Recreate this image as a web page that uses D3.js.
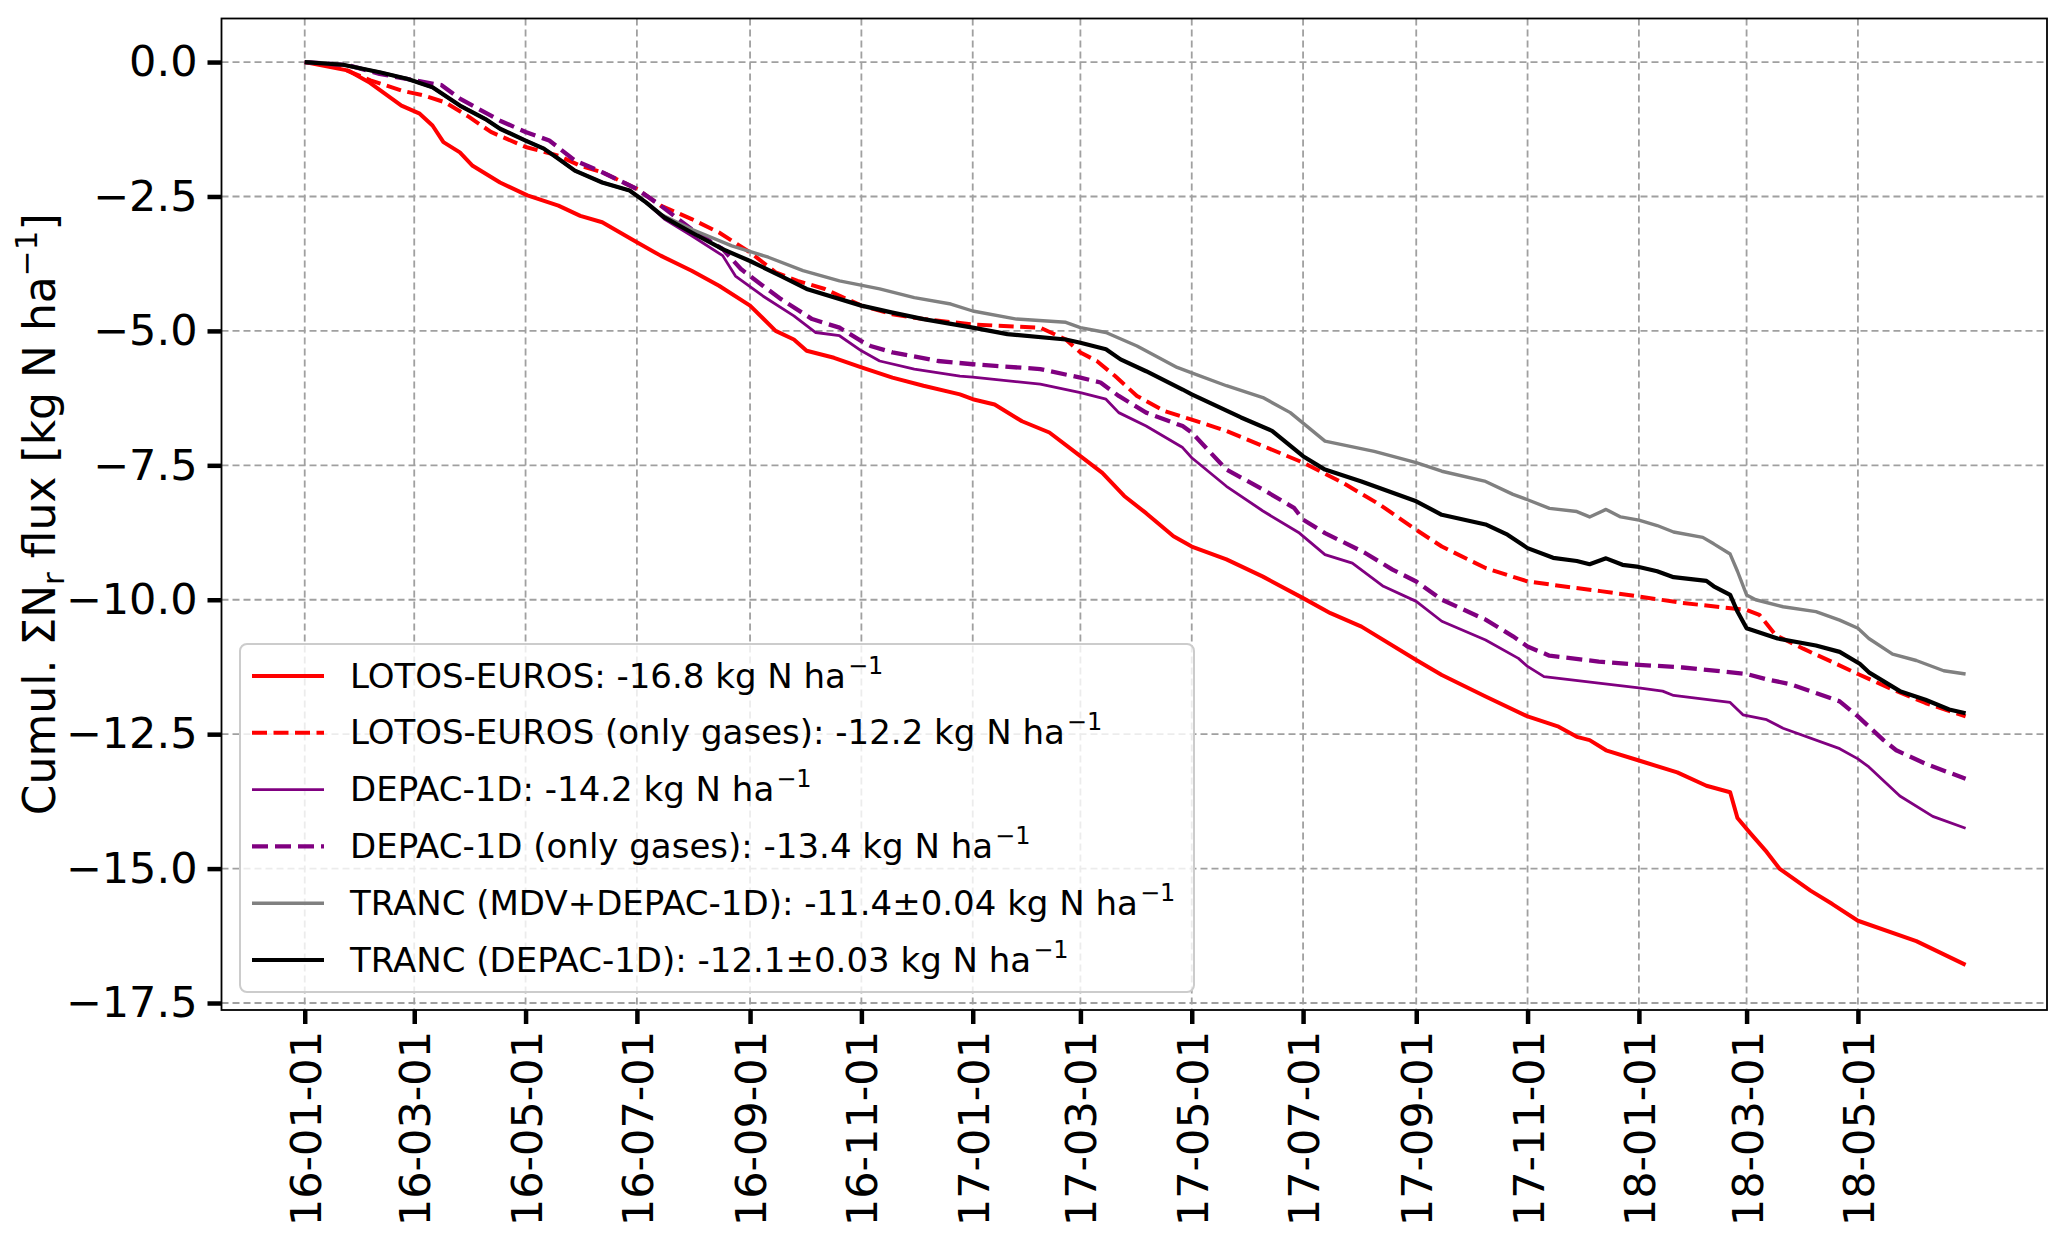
<!DOCTYPE html>
<html>
<head>
<meta charset="utf-8">
<script src="https://cdn.jsdelivr.net/npm/d3@7"></script>
<style>
  body { margin: 0; background: #fff; }
  svg { display: block; }
  text { font-family: "DejaVu Sans", sans-serif; fill: #000; }
</style>
</head>
<body>
<svg id="chart" width="2067" height="1243"></svg>
<script>
// days counted from 2016-01-01, values in kg N ha-1
const lotosDays = [0, 24, 35, 53, 63, 70, 76, 85, 92, 107, 122, 139, 151, 163, 182, 195, 212, 227, 244, 258, 268, 275, 290, 305, 322, 339, 359, 366, 378, 393, 408, 425, 437, 449, 461, 476, 486, 505, 525, 547, 562, 579, 609, 623, 647, 670, 687, 697, 704, 713, 731, 752, 768, 781, 785, 792, 801, 808, 825, 837, 851, 883, 910]
const lotosVals = [0, -0.16, -0.37, -0.81, -0.96, -1.18, -1.49, -1.68, -1.93, -2.24, -2.48, -2.67, -2.86, -2.98, -3.35, -3.60, -3.88, -4.16, -4.53, -5.00, -5.16, -5.37, -5.50, -5.68, -5.87, -6.02, -6.18, -6.27, -6.37, -6.68, -6.89, -7.33, -7.64, -8.07, -8.39, -8.82, -9.01, -9.25, -9.57, -9.97, -10.25, -10.50, -11.12, -11.40, -11.80, -12.17, -12.36, -12.55, -12.61, -12.80, -12.99, -13.21, -13.46, -13.58, -14.06, -14.34, -14.69, -15.00, -15.41, -15.66, -15.97, -16.35, -16.79]

const lotosGasDays = [0, 16, 36, 53, 65, 77, 90, 102, 121, 139, 151, 163, 182, 195, 212, 227, 244, 258, 270, 285, 305, 322, 339, 366, 403, 417, 425, 434, 444, 456, 471, 486, 505, 525, 547, 569, 589, 609, 623, 647, 670, 696, 710, 731, 755, 790, 797, 806, 821, 837, 851, 870, 888, 910]
const lotosGasVals = [0, -0.06, -0.34, -0.53, -0.62, -0.75, -1.02, -1.30, -1.58, -1.74, -1.93, -2.05, -2.36, -2.67, -2.92, -3.17, -3.54, -3.91, -4.07, -4.22, -4.53, -4.69, -4.78, -4.88, -4.94, -5.16, -5.40, -5.56, -5.84, -6.21, -6.49, -6.65, -6.86, -7.14, -7.45, -7.83, -8.23, -8.70, -9.01, -9.41, -9.66, -9.78, -9.84, -9.94, -10.06, -10.19, -10.28, -10.66, -10.91, -11.16, -11.38, -11.67, -11.92, -12.17]

const depacDays = [0, 21, 41, 56, 70, 85, 99, 107, 121, 131, 139, 148, 163, 178, 187, 197, 212, 229, 236, 251, 268, 280, 293, 305, 315, 334, 359, 366, 403, 425, 439, 446, 461, 481, 486, 505, 525, 545, 559, 574, 591, 609, 623, 647, 665, 670, 679, 709, 731, 744, 750, 781, 788, 801, 810, 841, 851, 857, 874, 892, 910]
const depacVals = [0, -0.05, -0.19, -0.31, -0.47, -0.81, -1.06, -1.24, -1.46, -1.61, -1.80, -2.02, -2.24, -2.39, -2.61, -2.92, -3.23, -3.60, -3.98, -4.35, -4.72, -5.03, -5.09, -5.37, -5.56, -5.71, -5.84, -5.86, -5.99, -6.15, -6.27, -6.52, -6.77, -7.17, -7.36, -7.89, -8.35, -8.76, -9.16, -9.32, -9.75, -10.03, -10.40, -10.75, -11.09, -11.24, -11.43, -11.55, -11.64, -11.70, -11.78, -11.91, -12.14, -12.23, -12.39, -12.77, -12.96, -13.11, -13.65, -14.03, -14.25]

const depacGasDays = [0, 24, 41, 60, 75, 85, 107, 121, 134, 148, 163, 182, 195, 212, 229, 239, 251, 261, 278, 293, 305, 310, 322, 347, 366, 403, 425, 436, 446, 461, 481, 486, 505, 525, 542, 547, 559, 581, 596, 609, 623, 647, 662, 670, 682, 709, 731, 755, 790, 801, 814, 841, 851, 865, 872, 888, 910]
const depacGasVals = [0, -0.06, -0.22, -0.34, -0.43, -0.68, -1.09, -1.30, -1.46, -1.83, -2.05, -2.36, -2.67, -3.11, -3.48, -3.85, -4.16, -4.41, -4.78, -4.94, -5.19, -5.28, -5.40, -5.56, -5.62, -5.71, -5.87, -5.96, -6.21, -6.52, -6.77, -6.89, -7.58, -7.95, -8.29, -8.51, -8.76, -9.13, -9.44, -9.66, -10.00, -10.37, -10.68, -10.87, -11.04, -11.15, -11.21, -11.26, -11.38, -11.48, -11.57, -11.89, -12.17, -12.61, -12.80, -13.05, -13.33]

const trancMdvDays = [0, 21, 41, 56, 70, 85, 99, 107, 121, 131, 139, 148, 163, 178, 187, 195, 212, 234, 254, 273, 293, 315, 334, 354, 366, 390, 417, 425, 439, 456, 478, 486, 505, 525, 540, 549, 559, 586, 609, 623, 647, 662, 670, 682, 697, 704, 713, 721, 731, 741, 750, 766, 772, 781, 785, 790, 795, 810, 828, 841, 851, 857, 870, 883, 898, 910]
const trancMdvVals = [0, -0.05, -0.19, -0.31, -0.47, -0.81, -1.06, -1.24, -1.46, -1.61, -1.80, -2.02, -2.24, -2.39, -2.61, -2.83, -3.11, -3.42, -3.63, -3.88, -4.07, -4.22, -4.38, -4.50, -4.63, -4.78, -4.84, -4.94, -5.03, -5.28, -5.68, -5.78, -6.02, -6.24, -6.52, -6.77, -7.05, -7.24, -7.45, -7.61, -7.80, -8.04, -8.14, -8.30, -8.36, -8.46, -8.32, -8.46, -8.52, -8.62, -8.74, -8.84, -8.96, -9.15, -9.47, -9.91, -10.00, -10.13, -10.22, -10.38, -10.53, -10.72, -11.01, -11.13, -11.32, -11.38]

const trancDays = [0, 21, 41, 56, 70, 85, 99, 107, 121, 131, 139, 148, 163, 178, 187, 197, 212, 229, 244, 261, 275, 305, 322, 339, 366, 385, 417, 425, 439, 447, 461, 481, 486, 513, 530, 547, 559, 579, 609, 623, 647, 659, 670, 684, 697, 704, 713, 722, 731, 741, 750, 768, 772, 781, 785, 790, 807, 828, 841, 852, 857, 874, 888, 901, 910]
const trancVals = [0, -0.05, -0.19, -0.31, -0.47, -0.81, -1.06, -1.24, -1.46, -1.61, -1.80, -2.02, -2.24, -2.39, -2.61, -2.89, -3.17, -3.48, -3.70, -3.98, -4.22, -4.53, -4.66, -4.78, -4.94, -5.06, -5.16, -5.22, -5.34, -5.53, -5.75, -6.09, -6.18, -6.61, -6.86, -7.33, -7.58, -7.80, -8.17, -8.42, -8.60, -8.79, -9.04, -9.22, -9.28, -9.34, -9.23, -9.35, -9.39, -9.47, -9.58, -9.65, -9.75, -9.91, -10.22, -10.53, -10.72, -10.85, -10.97, -11.19, -11.35, -11.70, -11.86, -12.04, -12.11]

const seriesLabels = [
  'LOTOS-EUROS: -16.8 kg N ha',
  'LOTOS-EUROS (only gases): -12.2 kg N ha',
  'DEPAC-1D: -14.2 kg N ha',
  'DEPAC-1D (only gases): -13.4 kg N ha',
  'TRANC (MDV+DEPAC-1D): -11.4\u00b10.04 kg N ha',
  'TRANC (DEPAC-1D): -12.1\u00b10.03 kg N ha'
]
const xTickLabels = ['2016-01-01', '2016-03-01', '2016-05-01', '2016-07-01', '2016-09-01', '2016-11-01',
  '2017-01-01', '2017-03-01', '2017-05-01', '2017-07-01', '2017-09-01', '2017-11-01',
  '2018-01-01', '2018-03-01', '2018-05-01']
const yTickValues = [0, -2.5, -5, -7.5, -10, -12.5, -15, -17.5]

// styles
const styles = [
  { color: '#ff0000', width: 4, dash: null },
  { color: '#ff0000', width: 4, dash: '15,6.5' },
  { color: '#800080', width: 2.8, dash: null },
  { color: '#800080', width: 4.3, dash: '16,7' },
  { color: '#808080', width: 3.4, dash: null },
  { color: '#000000', width: 4.2, dash: null }
]

const DAY_MS = 864e5
const start = Date.UTC(2016, 0, 1)
const toDate = (d) => new Date(start + d * DAY_MS)

const series = [
  [lotosDays, lotosVals],
  [lotosGasDays, lotosGasVals],
  [depacDays, depacVals],
  [depacGasDays, depacGasVals],
  [trancMdvDays, trancMdvVals],
  [trancDays, trancVals]
].map(([days, vals], i) => ({
  label: seriesLabels[i],
  style: styles[i],
  points: days.map((d, j) => ({ date: toDate(d), value: vals[j] }))
}))

const plot = { left: 221.5, right: 2047, top: 18.5, bottom: 1010 }
const svg = d3.select('#chart')

const x = d3.scaleUtc()
  .domain([toDate(-45.6), toDate(954.6)])
  .range([plot.left, plot.right])
const y = d3.scaleLinear()
  .domain([-17.63, 0.81])
  .range([plot.bottom, plot.top])

const parseDay = d3.utcParse('%Y-%m-%d')
const xTicks = xTickLabels.map(parseDay)

// grid
const grid = svg.append('g')
  .attr('stroke', '#a0a0a0')
  .attr('stroke-width', 1.8)
  .attr('stroke-dasharray', '7,4')
grid.selectAll('.gx').data(xTicks).enter().append('line')
  .attr('x1', (d) => x(d)).attr('x2', (d) => x(d))
  .attr('y1', plot.top).attr('y2', plot.bottom)
grid.selectAll('.gy').data(yTickValues).enter().append('line')
  .attr('y1', (d) => y(d)).attr('y2', (d) => y(d))
  .attr('x1', plot.left).attr('x2', plot.right)

// lines
const line = d3.line()
  .x((d) => x(d.date))
  .y((d) => y(d.value))
svg.append('g').selectAll('path').data(series).enter().append('path')
  .attr('d', (d) => line(d.points))
  .attr('fill', 'none')
  .attr('stroke', (d) => d.style.color)
  .attr('stroke-width', (d) => d.style.width)
  .attr('stroke-dasharray', (d) => d.style.dash)
  .attr('stroke-linejoin', 'round')

// frame
svg.append('rect')
  .attr('x', plot.left).attr('y', plot.top)
  .attr('width', plot.right - plot.left).attr('height', plot.bottom - plot.top)
  .attr('fill', 'none').attr('stroke', '#000').attr('stroke-width', 1.8)

// axes
const yAxis = svg.append('g')
  .attr('transform', `translate(${plot.left},0)`)
  .call(d3.axisLeft(y).tickValues(yTickValues).tickFormat(d3.format('.1f')).tickSize(14).tickPadding(10))
yAxis.select('.domain').remove()
yAxis.selectAll('line').attr('stroke-width', 4.5)
yAxis.selectAll('text').attr('font-size', 43).attr('font-family', '"DejaVu Sans", sans-serif')

const xAxis = svg.append('g')
  .attr('transform', `translate(0,${plot.bottom})`)
  .call(d3.axisBottom(x).tickValues(xTicks).tickFormat(d3.utcFormat('%y-%m-%d')).tickSize(14))
xAxis.select('.domain').remove()
xAxis.selectAll('line').attr('stroke-width', 4.5)
xAxis.selectAll('text')
  .attr('font-size', 43)
  .attr('font-family', '"DejaVu Sans", sans-serif')
  .attr('transform', 'rotate(-90)')
  .attr('x', -21).attr('y', 0).attr('dy', '0.36em')
  .attr('text-anchor', 'end')

// y label
const yLabel = svg.append('text')
  .attr('transform', `translate(55,${(plot.top + plot.bottom) / 2}) rotate(-90)`)
  .attr('text-anchor', 'middle')
  .attr('font-size', 44)
yLabel.append('tspan').text('Cumul. \u03a3N')
yLabel.append('tspan').text('r').attr('font-size', 31).attr('dy', 9)
yLabel.append('tspan').text(' flux [kg N ha').attr('dy', -9)
yLabel.append('tspan').text('\u22121').attr('font-size', 31).attr('dy', -18)
yLabel.append('tspan').text(']').attr('dy', 18)

// legend
const legend = svg.append('g')
legend.append('rect')
  .attr('x', 240).attr('y', 644).attr('width', 954).attr('height', 348)
  .attr('rx', 7)
  .attr('fill', '#fff').attr('fill-opacity', 0.8)
  .attr('stroke', '#cccccc').attr('stroke-width', 2)
const rows = legend.selectAll('.row').data(series).enter().append('g')
  .attr('transform', (d, i) => `translate(0,${676 + i * 56.8})`)
rows.append('line')
  .attr('x1', 252).attr('x2', 324)
  .attr('stroke', (d) => d.style.color)
  .attr('stroke-width', (d) => d.style.width)
  .attr('stroke-dasharray', (d) => d.style.dash)
const rowText = rows.append('text')
  .attr('x', 350).attr('dy', '0.34em')
  .attr('font-size', 34)
rowText.append('tspan').text((d) => d.label)
rowText.append('tspan').text('\u22121').attr('font-size', 24).attr('dx', 2).attr('dy', -14)
</script>
</body>
</html>
